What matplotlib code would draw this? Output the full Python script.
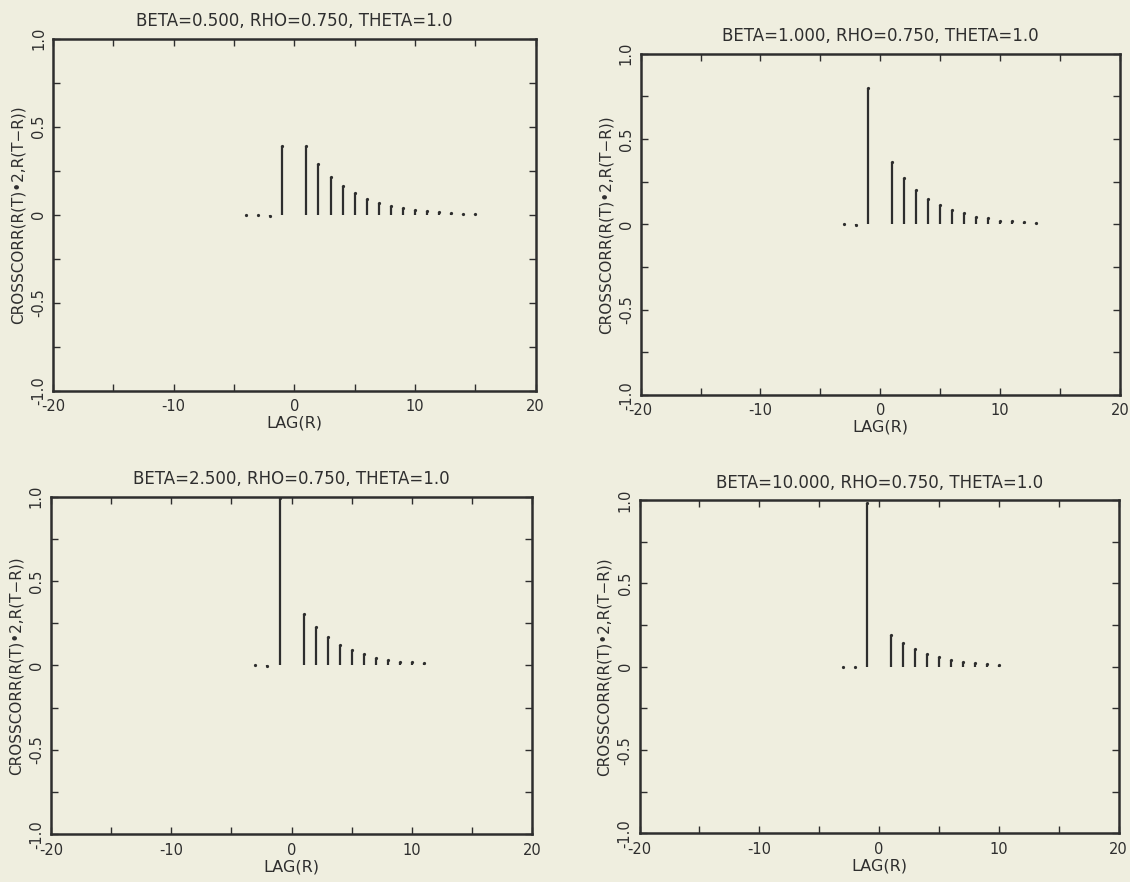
import matplotlib
matplotlib.use("Agg")
import matplotlib.pyplot as plt

# lags and cross-correlation values
lags_a = [-4, -3, -2, -1, 1, 2, 3, 4, 5, 6, 7, 8, 9, 10, 11, 12, 13, 14, 15]
corr_a = [0.0, -0.003, -0.008, 0.393, 0.39, 0.289, 0.217, 0.162, 0.123, 0.087,
          0.068, 0.051, 0.040, 0.028, 0.019, 0.013, 0.009, 0.006, 0.004]

lags_b = [-3, -2, -1, 1, 2, 3, 4, 5, 6, 7, 8, 9, 10, 11, 12, 13]
corr_b = [0.0, -0.006, 0.797, 0.367, 0.274, 0.203, 0.152, 0.115, 0.086,
          0.066, 0.043, 0.035, 0.023, 0.018, 0.012, 0.006]

lags_c = [-3, -2, -1, 1, 2, 3, 4, 5, 6, 7, 8, 9, 10, 11]
corr_c = [0.0, -0.006, 0.99, 0.306, 0.225, 0.167, 0.122, 0.090, 0.067,
          0.045, 0.035, 0.022, 0.018, 0.012]

lags_d = [-3, -2, -1, 1, 2, 3, 4, 5, 6, 7, 8, 9, 10]
corr_d = [0.0, -0.004, 0.98, 0.189, 0.143, 0.109, 0.079, 0.058, 0.040,
          0.028, 0.022, 0.016, 0.010]

titles = ["BETA=0.500, RHO=0.750, THETA=1.0",
          "BETA=1.000, RHO=0.750, THETA=1.0",
          "BETA=2.500, RHO=0.750, THETA=1.0",
          "BETA=10.000, RHO=0.750, THETA=1.0"]

xtick_labels = ["-20", "", "-10", "", "0", "", "10", "", "20"]
ytick_labels = ["-1.0", "", "-0.5", "", "0", "", "0.5", "", "1.0"]

bg = "#efeedf"
ink = "#2e2e2e"

fig = plt.figure(figsize=(11.3, 8.82), dpi=100, facecolor=bg)

# axes boxes [left, bottom, width, height]
boxes = [[0.047, 0.557, 0.427, 0.399],
         [0.567, 0.552, 0.424, 0.387],
         [0.045, 0.054, 0.426, 0.383],
         [0.566, 0.055, 0.424, 0.378]]

data = [(lags_a, corr_a), (lags_b, corr_b), (lags_c, corr_c), (lags_d, corr_d)]

for box, (lags, corr), title in zip(boxes, data, titles):
    ax = fig.add_axes(box)
    ax.set_facecolor(bg)
    ax.vlines(lags, 0, corr, color=ink, linewidth=1.6)
    # the near-zero lags show up only as small dots
    ax.plot(lags, corr, linestyle="none", marker="o", markersize=1.3, color=ink)

    ax.set_xlim(-20, 20)
    ax.set_ylim(-1, 1)
    ax.set_xticks(range(-20, 21, 5))
    ax.set_xticklabels(xtick_labels)
    ax.set_yticks([-1, -0.75, -0.5, -0.25, 0, 0.25, 0.5, 0.75, 1])
    ax.set_yticklabels(ytick_labels, rotation=90, va="center")
    ax.tick_params(direction="in", length=5, width=1.0, color=ink,
                   top=True, right=True, labelsize=10.5, labelcolor=ink)
    ax.tick_params(axis="x", pad=6)
    ax.tick_params(axis="y", pad=5)
    for s in ax.spines.values():
        s.set_linewidth(1.8)
        s.set_color(ink)

    ax.set_title(title, fontsize=12, color=ink, pad=9)
    ax.set_xlabel("LAG(R)", fontsize=11.5, color=ink, labelpad=1)
    ax.set_ylabel("CROSSCORR(R(T)\u20222,R(T\u2212R))", fontsize=11,
                  color=ink, labelpad=4)

fig.savefig("out.png", dpi=100, facecolor=bg)
